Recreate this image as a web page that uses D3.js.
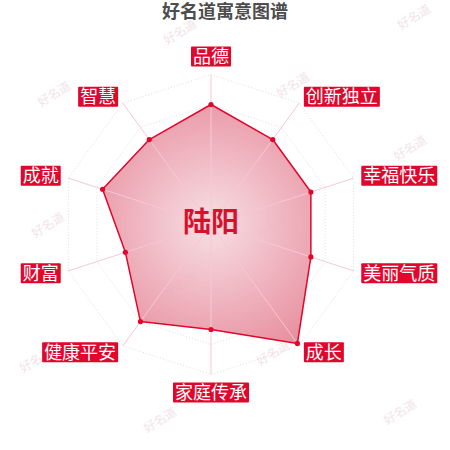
<!DOCTYPE html>
<html>
<head>
  <meta charset="utf-8">
  <script src="https://d3js.org/d3.v7.min.js"></script>
  <style>
    body { margin: 0; background: #fff; }
    svg { display: block; font-family: "Noto Sans CJK SC", "Noto Sans", sans-serif; }
  </style>
</head>
<body>
  <div id="chart"></div>
  <script>
    // chart data
    var title = "好名道寓意图谱";
    var nameText = "陆阳";
    var categories = ["品德", "创新独立", "幸福快乐", "美丽气质", "成长", "家庭传承", "健康平安", "财富", "成就", "智慧"];
    var values = [80, 70, 70, 70, 98, 70, 80, 60, 76, 70];
    var maxValue = 100;
    var ringLevels = [20, 40, 60, 80, 100];
    var watermarkText = "好名道";

    var width = 450,
      height = 450,
      cx = 211,
      cy = 224.5,
      radius = 150,
      red = "#e1062c";

    var svg = d3.select("#chart")
      .append("svg")
      .attr("width", width)
      .attr("height", height);

    var defs = svg.append("defs");
    var grad = defs.append("radialGradient")
      .attr("id", "areaFill")
      .attr("gradientUnits", "userSpaceOnUse")
      .attr("cx", cx).attr("cy", cy).attr("r", radius);
    grad.append("stop").attr("offset", "0%").attr("stop-color", "#f7dbe1");
    grad.append("stop").attr("offset", "100%").attr("stop-color", "#e47f91");

    // faint watermarks behind everything
    var marks = [[54, 94], [180, 32], [293, 85], [414, 17], [410, 148], [48, 225],
      [36, 360], [273, 353], [160, 420], [400, 412], [272, 225], [180, 285]];
    svg.append("g").selectAll("text")
      .data(marks).enter().append("text")
      .attr("transform", function(d) { return "translate(" + d[0] + "," + d[1] + ") rotate(-32)"; })
      .attr("text-anchor", "middle")
      .attr("dy", "0.35em")
      .style("font-size", "12px")
      .style("font-family", "'Noto Sans CJK JP', serif")
      .style("fill", "#f1e4e7")
      .text(watermarkText);

    var r = d3.scaleLinear().domain([0, maxValue]).range([0, radius]);
    var angle = d3.scaleLinear().domain([0, categories.length]).range([0, 2 * Math.PI]);

    function pt(i, v) {
      var a = angle(i);
      return [cx + r(v) * Math.sin(a), cy - r(v) * Math.cos(a)];
    }

    var g = svg.append("g");

    // ring polygons (dotted)
    g.selectAll(".ring")
      .data(ringLevels).enter().append("polygon")
      .attr("class", "ring")
      .attr("points", function(lv) {
        return categories.map(function(c, i) { return pt(i, lv).join(","); }).join(" ");
      })
      .attr("fill", "none")
      .attr("stroke", "#e2dcde")
      .attr("stroke-width", 1)
      .attr("stroke-dasharray", "1,2");

    // data area
    var line = d3.line().curve(d3.curveLinearClosed);
    var pts = values.map(function(v, i) { return pt(i, v); });

    g.append("path")
      .attr("d", line(pts))
      .attr("fill", "url(#areaFill)")
      .attr("fill-opacity", 0.9);

    // axis lines drawn over the fill
    g.selectAll(".axis")
      .data(categories).enter().append("line")
      .attr("class", "axis")
      .attr("x1", cx).attr("y1", cy)
      .attr("x2", function(d, i) { return pt(i, maxValue)[0]; })
      .attr("y2", function(d, i) { return pt(i, maxValue)[1]; })
      .attr("stroke", "#f6c9d2")
      .attr("stroke-width", 1);

    g.append("path")
      .attr("d", line(pts))
      .attr("fill", "none")
      .attr("stroke", red)
      .attr("stroke-width", 1.5)
      .attr("stroke-linejoin", "round");

    g.selectAll(".dot")
      .data(pts).enter().append("circle")
      .attr("class", "dot")
      .attr("cx", function(d) { return d[0]; })
      .attr("cy", function(d) { return d[1]; })
      .attr("r", 2.6)
      .attr("fill", red);

    // axis name labels, red boxes with white text
    var labelR = radius + 8,
      pad = 2,
      boxH = 20;
    var labels = svg.append("g").selectAll(".lab")
      .data(categories).enter().append("g")
      .attr("class", "lab");

    labels.each(function(d, i) {
      var a = angle(i),
        sx = Math.sin(a),
        cyy = -Math.cos(a),
        x = cx + labelR * sx,
        y = cy + labelR * cyy;
      var lg = d3.select(this);
      var rect = lg.append("rect").attr("fill", red).attr("rx", 1);
      var t = lg.append("text")
        .style("font-size", "18px")
        .style("fill", "#fff")
        .attr("dy", "0.35em")
        .text(d);
      var w = t.node().getComputedTextLength() + pad * 2;
      var left, top;
      if (Math.abs(sx) < 0.01) left = x - w / 2;
      else if (sx > 0) left = x;
      else left = x - w;
      if (Math.abs(sx) < 0.01 && cyy < 0) top = y - boxH;
      else if (Math.abs(sx) < 0.01 && cyy > 0) top = y;
      else top = y - boxH / 2;
      rect.attr("x", left).attr("y", top).attr("width", w).attr("height", boxH);
      t.attr("x", left + pad).attr("y", top + boxH / 2);
    });

    // centre name
    svg.append("text")
      .attr("x", cx)
      .attr("y", cy - 2)
      .attr("dy", "0.35em")
      .attr("text-anchor", "middle")
      .style("font-size", "28px")
      .style("font-weight", "bold")
      .style("fill", "#d90f2e")
      .text(nameText);

    // title
    svg.append("text")
      .attr("x", 225)
      .attr("y", 18)
      .attr("text-anchor", "middle")
      .style("font-size", "18px")
      .style("font-weight", "bold")
      .style("fill", "#4d4d4d")
      .text(title);
  </script>
</body>
</html>
